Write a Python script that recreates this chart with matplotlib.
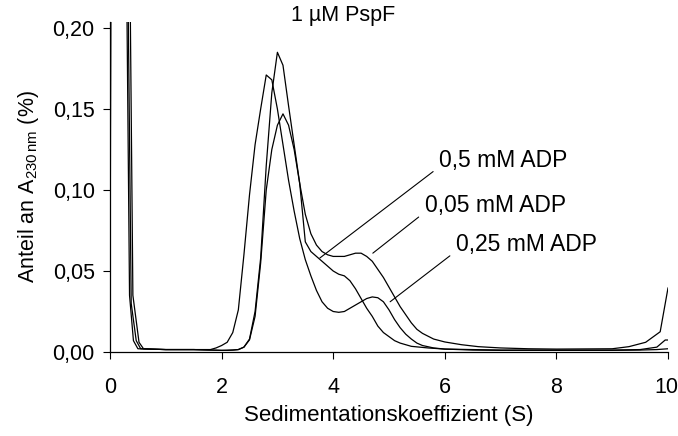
import matplotlib
matplotlib.use("Agg")
import matplotlib.pyplot as plt
import matplotlib.transforms as mtransforms

plt.rcParams['font.family'] = ['Liberation Sans', 'DejaVu Sans']
plt.rcParams['mathtext.fontset'] = 'custom'
plt.rcParams['mathtext.rm'] = 'Liberation Sans'
plt.rcParams['mathtext.it'] = 'Liberation Sans:italic'

title = "1 µM PspF"
xlabel = "Sedimentationskoeffizient (S)"
ylabel = r"Anteil an A$_{230\,\mathrm{nm}}$ (%)"
xticks = [0, 2, 4, 6, 8, 10]
xtick_labels = ["0", "2", "4", "6", "8", "10"]
yticks = [0.0, 0.05, 0.10, 0.15, 0.20]
ytick_labels = ["0,00", "0,05", "0,10", "0,15", "0,20"]

# 0,05 mM ADP (tallest peak, upper shoulder)
x_005 = [0, 0.015, 0.34, 0.41, 0.52, 0.6, 1.0, 1.5, 2.0, 2.1, 2.2, 2.3, 2.4, 2.5, 2.6, 2.7,
         2.8, 2.9, 3.0, 3.1, 3.2, 3.3, 3.4, 3.5, 3.6, 3.7, 3.8, 3.9, 4.0, 4.1, 4.2, 4.3,
         4.4, 4.5, 4.6, 4.7, 4.8, 4.9, 5.0, 5.1, 5.2, 5.3, 5.4, 5.5, 5.6, 5.8, 6.0, 6.3,
         6.6, 7.0, 7.5, 8.0, 9.0, 9.3, 9.6, 9.86, 10.0]
y_005 = [0.004, 0.30, 0.30, 0.035, 0.006, 0.002, 0.0015, 0.0015, 0.001, 0.001, 0.0012,
         0.0015, 0.003, 0.008, 0.025, 0.058, 0.115, 0.160, 0.185, 0.177, 0.152, 0.128,
         0.104, 0.085, 0.073, 0.066, 0.062, 0.060, 0.059, 0.059, 0.059, 0.060, 0.061,
         0.061, 0.059, 0.056, 0.051, 0.046, 0.040, 0.034, 0.028, 0.023, 0.018, 0.014,
         0.0115, 0.008, 0.0062, 0.0045, 0.0033, 0.0025, 0.002, 0.0018, 0.002, 0.0033,
         0.006, 0.0125, 0.0395]

# 0,25 mM ADP (left peak, dip curve)
x_025 = [0, 0.02, 0.28, 0.35, 0.42, 0.5, 1.0, 1.5, 1.8, 1.9, 2.0, 2.1, 2.2, 2.3, 2.4, 2.5,
         2.6, 2.7, 2.8, 2.9, 3.0, 3.1, 3.2, 3.3, 3.4, 3.5, 3.6, 3.7, 3.8, 3.9, 4.0, 4.1,
         4.2, 4.3, 4.4, 4.5, 4.6, 4.7, 4.8, 4.9, 5.0, 5.1, 5.2, 5.3, 5.4, 5.5, 5.6, 5.8,
         6.0, 6.5, 7.0, 8.0, 9.0, 9.5, 9.8, 10.0]
y_025 = [0.008, 0.30, 0.30, 0.035, 0.007, 0.002, 0.0015, 0.0015, 0.0015, 0.0025, 0.004,
         0.006, 0.012, 0.026, 0.060, 0.097, 0.128, 0.150, 0.171, 0.168, 0.150, 0.128,
         0.106, 0.087, 0.070, 0.057, 0.047, 0.038, 0.031, 0.027, 0.025, 0.0245, 0.025,
         0.027, 0.029, 0.031, 0.033, 0.034, 0.0335, 0.031, 0.026, 0.020, 0.015, 0.011,
         0.008, 0.0055, 0.004, 0.0025, 0.0018, 0.0012, 0.001, 0.001, 0.001, 0.0012,
         0.0015, 0.002]

# 0,5 mM ADP (lowest main peak, middle curve)
x_05 = [0, 0.30, 0.38, 0.47, 0.55, 1.0, 1.5, 2.0, 2.2, 2.3, 2.4, 2.5, 2.6, 2.7, 2.8, 2.9,
        3.0, 3.1, 3.2, 3.3, 3.4, 3.5, 3.6, 3.7, 3.8, 3.9, 4.0, 4.1, 4.2, 4.3, 4.4, 4.5,
        4.6, 4.7, 4.8, 4.9, 5.0, 5.1, 5.2, 5.4, 5.7, 6.0, 7.0, 8.0, 9.0, 9.5, 9.8, 9.95,
        10.0]
y_05 = [0.30, 0.30, 0.03, 0.007, 0.002, 0.0015, 0.0015, 0.001, 0.0012, 0.0015, 0.003,
        0.0075, 0.022, 0.055, 0.100, 0.125, 0.140, 0.147, 0.140, 0.125, 0.104, 0.068,
        0.062, 0.059, 0.056, 0.053, 0.050, 0.048, 0.047, 0.044, 0.039, 0.033, 0.027,
        0.022, 0.016, 0.012, 0.0095, 0.007, 0.0055, 0.0035, 0.0025, 0.0018, 0.0012,
        0.0012, 0.0012, 0.0015, 0.003, 0.0074, 0.0074]

series = [
    ("0,5 mM ADP", x_05, y_05),
    ("0,05 mM ADP", x_005, y_005),
    ("0,25 mM ADP", x_025, y_025),
]
# (point on curve, text position) in data coords
label_pts = {
    "0,5 mM ADP": ((3.76, 0.058), (5.9, 0.1185)),
    "0,05 mM ADP": ((4.71, 0.061), (5.64, 0.0905)),
    "0,25 mM ADP": ((5.02, 0.031), (6.2, 0.0665)),
}

fig = plt.figure(figsize=(6.78, 4.36), dpi=100)
ax = fig.add_axes([110/678, 84/436, 558/678, 330/436])

for name, xs, ys in series:
    ax.plot(xs, ys, color='black', lw=0.9, clip_on=True)
    (px, py), (tx, ty) = label_pts[name]
    ax.annotate(name, xy=(px, py), xytext=(tx, ty), fontsize=16.5,
                ha='left', va='center',
                arrowprops=dict(arrowstyle='-', color='black', lw=0.8,
                                shrinkA=3, shrinkB=0, relpos=(0, 0.2)))

ax.set_xlim(0, 10)
ax.set_ylim(0, 0.2037)
ax.set_xticks(xticks)
ax.set_xticklabels(xtick_labels)
ax.set_yticks(yticks)
ax.set_yticklabels(ytick_labels)
ax.tick_params(axis='both', labelsize=15.5, length=5, width=0.8, direction='out')
ax.tick_params(axis='x', pad=13)
ax.tick_params(axis='y', pad=6)
for s in ['top', 'right']:
    ax.spines[s].set_visible(False)
for s in ['left', 'bottom']:
    ax.spines[s].set_linewidth(0.9)

# nudge last x tick label so it stays inside the figure
last = ax.get_xticklabels()[-1]
last.set_transform(last.get_transform() + mtransforms.ScaledTranslation(-2/100, 0, fig.dpi_scale_trans))

ax.set_xlabel(xlabel, fontsize=16, labelpad=5)
ax.set_ylabel(ylabel, fontsize=15.5, labelpad=8)
fig.text(343/678, 1 - 15/436, title, fontsize=15.5, ha='center', va='center')

fig.savefig("out.png", dpi=100)
